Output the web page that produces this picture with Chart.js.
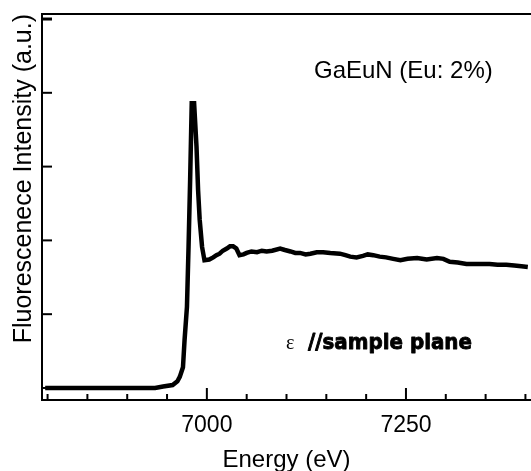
<!DOCTYPE html>
<html>
<head>
<meta charset="utf-8">
<title>GaEuN fluorescence</title>
<script src="https://cdn.jsdelivr.net/npm/chart.js@4"></script>
<style>
    html, body { margin: 0; padding: 0; background: #fff; }
    #wrap { width: 531px; height: 471px; position: relative; }
</style>
</head>
<body>
<div id="wrap"><canvas id="xasChart"></canvas></div>
<script>
// Eu L3-edge spectrum, energy in eV
const energy = [6797, 6850, 6900, 6935, 6945, 6957, 6963, 6966, 6970, 6972, 6975, 6977, 6979, 6981,
    6984, 6987, 6989, 6991, 6994, 6997, 7003, 7008, 7012, 7016, 7020, 7025, 7029, 7033, 7037, 7041,
    7046, 7050, 7056, 7063, 7069, 7075, 7082, 7092, 7098, 7105, 7111, 7117, 7124, 7130, 7138, 7146,
    7155, 7167, 7174, 7180, 7188, 7196, 7202, 7209, 7217, 7225, 7234, 7243, 7252, 7264, 7276, 7289,
    7297, 7305, 7315, 7326, 7340, 7355, 7365, 7376, 7386, 7395, 7403];
const intensity = [0, 0, 0, 0, 0.02, 0.04, 0.09, 0.15, 0.28, 0.65, 1.10, 1.91, 2.82, 3.86,
    3.86, 3.27, 2.68, 2.28, 1.91, 1.73, 1.74, 1.77, 1.80, 1.82, 1.86, 1.89, 1.92, 1.92, 1.89, 1.80,
    1.81, 1.83, 1.85, 1.84, 1.86, 1.85, 1.86, 1.89, 1.87, 1.85, 1.83, 1.83, 1.81, 1.82, 1.84, 1.84,
    1.83, 1.82, 1.80, 1.78, 1.77, 1.79, 1.81, 1.80, 1.78, 1.77, 1.75, 1.73, 1.75, 1.76, 1.74, 1.76,
    1.75, 1.71, 1.70, 1.68, 1.68, 1.68, 1.67, 1.67, 1.66, 1.65, 1.64];

const xMajorTicks = [7000, 7250];
const xMinorTicks = [6800, 6850, 6900, 6950, 7050, 7100, 7150, 7200, 7300, 7350, 7400];
const yTicks = [0, 1, 2, 3, 4, 5];

const sampleLabel = 'GaEuN (Eu: 2%)';
const polLabel = '//sample plane';

// ticks point into the plot, plus the closed top edge and the text labels
const frameAndLabels = {
    id: 'frameAndLabels',
    afterDraw(chart) {
        const ctx = chart.ctx;
        const area = chart.chartArea;
        const xs = chart.scales.x;
        const ys = chart.scales.y;
        ctx.save();
        ctx.strokeStyle = '#000';
        ctx.lineCap = 'butt';

        ctx.lineWidth = 2;
        ctx.beginPath();
        ctx.moveTo(area.left - 1, area.top);
        ctx.lineTo(chart.width, area.top);
        ctx.stroke();

        yTicks.forEach(function(v) {
            const y = ys.getPixelForValue(v);
            ctx.lineWidth = v === 5 ? 3 : 2;
            ctx.beginPath();
            ctx.moveTo(area.left, y);
            ctx.lineTo(area.left + 10, y);
            ctx.stroke();
        });

        ctx.lineWidth = 2;
        xMajorTicks.forEach(function(v) {
            const x = xs.getPixelForValue(v);
            ctx.beginPath();
            ctx.moveTo(x, area.bottom);
            ctx.lineTo(x, area.bottom - 12);
            ctx.stroke();
        });
        xMinorTicks.forEach(function(v) {
            const x = xs.getPixelForValue(v);
            ctx.beginPath();
            ctx.moveTo(x, area.bottom);
            ctx.lineTo(x, area.bottom - 6);
            ctx.stroke();
        });

        ctx.fillStyle = '#000';
        ctx.textBaseline = 'alphabetic';
        ctx.textAlign = 'left';
        ctx.font = '24px "Liberation Sans", Arial, sans-serif';
        ctx.fillText(sampleLabel, 314, 78);

        ctx.font = '20px "Liberation Serif", "DejaVu Serif", serif';
        ctx.fillText('\u03b5', 286, 349);

        // heavy label squeezed to the same run length as the printed one
        ctx.font = 'bold 22px "DejaVu Sans", sans-serif';
        const w = ctx.measureText(polLabel).width;
        ctx.translate(308, 349);
        ctx.scale(164 / w, 1);
        ctx.lineWidth = 0.9;
        ctx.lineJoin = 'round';
        ctx.fillText(polLabel, 0, 0);
        ctx.strokeText(polLabel, 0, 0);
        ctx.restore();
    }
};

const ctx = document.getElementById('xasChart').getContext('2d');
new Chart(ctx, {
    type: 'line',
    data: {
        datasets: [{
            data: energy.map(function(e, i) { return { x: e, y: intensity[i] }; }),
            borderColor: '#000',
            borderWidth: 4.5,
            pointRadius: 0,
            tension: 0,
            fill: false
        }]
    },
    options: {
        responsive: true,
        maintainAspectRatio: false,
        animation: false,
        layout: { padding: { top: 14, left: 0, right: 0, bottom: 0 } },
        plugins: {
            legend: { display: false },
            tooltip: { enabled: false }
        },
        scales: {
            x: {
                type: 'linear',
                min: 6793,
                max: 7407,
                afterFit: function(scale) { scale.height = 71; },
                afterBuildTicks: function(scale) {
                    scale.ticks = xMajorTicks.map(function(v) { return { value: v }; });
                },
                grid: { display: false, drawTicks: false },
                border: { display: true, color: '#000', width: 2 },
                ticks: {
                    color: '#000',
                    padding: 12,
                    maxRotation: 0,
                    callback: function(value) { return String(value); },
                    font: { family: '"Liberation Sans", Arial, sans-serif', size: 23 }
                },
                title: {
                    display: true,
                    text: 'Energy (eV)',
                    color: '#000',
                    padding: 0,
                    font: { family: '"Liberation Sans", Arial, sans-serif', size: 24, lineHeight: 0.85 }
                }
            },
            y: {
                min: -0.163,
                max: 5.068,
                afterFit: function(scale) { scale.width = 42; },
                grid: { display: false, drawTicks: false },
                border: { display: true, color: '#000', width: 2 },
                ticks: { display: false },
                title: {
                    display: true,
                    text: 'Fluorescenece Intensity (a.u.)',
                    align: 'end',
                    color: '#000',
                    padding: { top: 9, bottom: 0 },
                    font: { family: '"Liberation Sans", Arial, sans-serif', size: 25 }
                }
            }
        }
    },
    plugins: [frameAndLabels]
});
</script>
</body>
</html>
